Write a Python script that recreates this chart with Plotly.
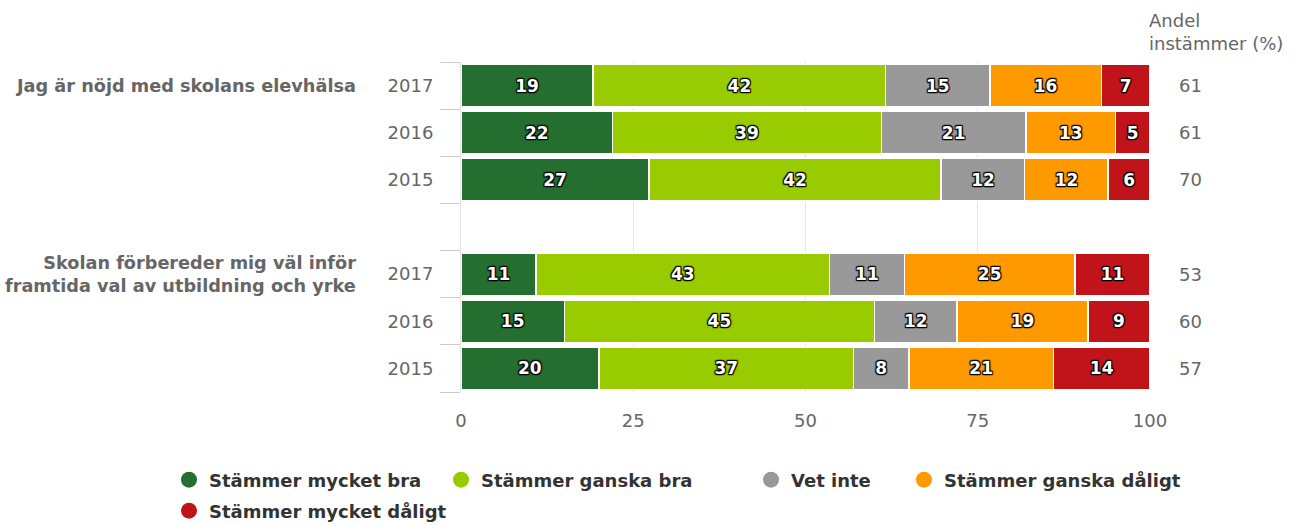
import plotly.graph_objects as go

# ---- data ----
questions = ["Jag är nöjd med skolans elevhälsa",
             "Skolan förbereder mig väl inför<br>framtida val av utbildning och yrke"]
years = ["2017", "2016", "2015"]
series_names = ["Stämmer mycket bra", "Stämmer ganska bra", "Vet inte",
                "Stämmer ganska dåligt", "Stämmer mycket dåligt"]
colors = ["#246f2f", "#99cc00", "#999999", "#ff9900", "#c0141a"]

# values per series, rows: Q1 2017, Q1 2016, Q1 2015, Q2 2017, Q2 2016, Q2 2015
mycket_bra = [19, 22, 27, 11, 15, 20]
ganska_bra = [42, 39, 42, 43, 45, 37]
vet_inte = [15, 21, 12, 11, 12, 8]
ganska_daligt = [16, 13, 12, 25, 19, 21]
mycket_daligt = [7, 5, 6, 11, 9, 14]
andel_instammer = [61, 61, 70, 53, 60, 57]

series_values = [mycket_bra, ganska_bra, vet_inte, ganska_daligt, mycket_daligt]

# category keys (with one empty slot between the two questions)
row_keys = [f"q{qi}_{y}" for qi in (1, 2) for y in years]
cat_array = row_keys[:3] + ["gap"] + row_keys[3:]
tick_text = years + [""] + years

# ---- layout geometry (pixels) ----
W, H = 1306, 525
ML, MR, MT, MB = 461, 156, 62, 133
PW, PH = W - ML - MR, H - MT - MB


def px_x(p):
    return (p - ML) / PW


def px_y(p):
    return (H - MB - p) / PH


label_font = dict(family="DejaVu Sans", size=18, color="#666666")
outline = ("1px 1px 1px #000, -1px -1px 1px #000, 1px -1px 1px #000, "
           "-1px 1px 1px #000, 0 1px 1px #000, 0 -1px 1px #000")

fig = go.Figure()
for name, vals, col in zip(series_names, series_values, colors):
    fig.add_trace(go.Bar(
        y=row_keys, x=vals, name=name, orientation="h",
        marker=dict(color=col, line=dict(color="#ffffff", width=1.5)),
        text=[str(v) for v in vals], textposition="inside",
        insidetextanchor="middle", textangle=0, constraintext="none",
        textfont=dict(family="DejaVu Sans", size=17, color="#ffffff", weight="bold",
                      shadow=outline),
        showlegend=False, hoverinfo="x+name",
    ))

# legend entries with circle symbols, each placed in its own legend box
legend_pos = [(188, 480), (460, 480), (770, 480), (923, 480), (188, 511)]
legend_ids = ["legend", "legend2", "legend3", "legend4", "legend5"]
for name, col, lid in zip(series_names, colors, legend_ids):
    fig.add_trace(go.Scatter(
        x=[None], y=[None], mode="markers", name=name, legend=lid,
        marker=dict(color=col, size=16, symbol="circle"), showlegend=True,
    ))

legend_layouts = {}
for lid, (cx, cy) in zip(legend_ids, legend_pos):
    legend_layouts[lid] = dict(
        orientation="h", x=px_x(cx - 19), xanchor="left", y=px_y(cy), yanchor="middle",
        font=dict(family="DejaVu Sans", size=18, color="#333333", weight="bold"),
        itemclick=False, bgcolor="rgba(0,0,0,0)",
    )

# question labels
for qi, q in enumerate(questions):
    fig.add_annotation(
        xref="paper", yref="y", x=px_x(358), y=row_keys[qi * 3], text=f"<b>{q}</b>",
        showarrow=False, xanchor="right", yanchor="middle", align="right",
        font=dict(family="DejaVu Sans", size=17.7, color="#666666"),
    )

# right-side share values
for key, v in zip(row_keys, andel_instammer):
    fig.add_annotation(
        xref="paper", yref="y", x=px_x(1177), y=key, text=str(v),
        showarrow=False, xanchor="left", yanchor="middle", font=label_font,
    )
fig.add_annotation(
    xref="paper", yref="paper", x=px_x(1147), y=px_y(32), text="Andel<br>instämmer (%)",
    showarrow=False, xanchor="left", yanchor="middle", align="left", font=label_font,
)

fig.update_layout(
    width=W, height=H,
    margin=dict(l=ML, r=MR, t=MT, b=MB, autoexpand=False),
    barmode="stack", barnorm="percent", bargap=0.1,
    plot_bgcolor="#ffffff", paper_bgcolor="#ffffff",
    showlegend=True,
    xaxis=dict(range=[0, 100], tickvals=[0, 25, 50, 75, 100], showgrid=True,
               gridcolor="#e6e6e6", zeroline=False, showline=False, ticks="",
               tickfont=label_font, ticklabelstandoff=16, fixedrange=True),
    yaxis=dict(type="category", categoryorder="array", categoryarray=cat_array,
               tickmode="array", tickvals=cat_array, ticktext=tick_text,
               range=[6.5, -0.5], tickson="boundaries", ticks="outside", ticklen=20,
               tickcolor="#cccccc", showline=True, linecolor="#e6e6e6",
               showgrid=False, tickfont=label_font, ticklabelstandoff=23,
               fixedrange=True),
    **legend_layouts,
)

fig.write_html("out.html", config={"displayModeBar": False},
               post_script="document.body.style.margin='0';document.body.style.overflow='hidden';")
